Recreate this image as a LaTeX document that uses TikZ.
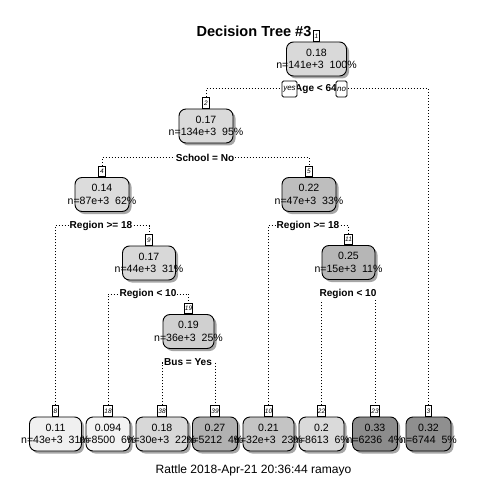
\documentclass[tikz,border=0pt]{standalone}
\usepackage{fontspec}
\setmainfont{Liberation Sans}
\usetikzlibrary{shadows}
\definecolor{cA}{HTML}{D9D9D9}
\definecolor{cB}{HTML}{DADADA}
\definecolor{cC}{HTML}{DCDCDC}
\definecolor{cD}{HTML}{BEBEBE}
\definecolor{cE}{HTML}{D8D8D8}
\definecolor{cF}{HTML}{B6B6B6}
\definecolor{cG}{HTML}{D0D0D0}
\definecolor{cL8}{HTML}{F0F0F0}
\definecolor{cL18}{HTML}{F3F3F3}
\definecolor{cL38}{HTML}{D8D8D8}
\definecolor{cL39}{HTML}{B1B1B1}
\definecolor{cL10}{HTML}{C4C4C4}
\definecolor{cL22}{HTML}{DADADA}
\definecolor{cL23}{HTML}{8C8C8C}
\definecolor{cL3}{HTML}{8F8F8F}
\tikzset{
  box/.style={draw=black, line width=0.9bp, rounded corners=7bp, minimum height=34bp, inner sep=0pt,
    drop shadow={shadow xshift=2.5bp, shadow yshift=-2.5bp, fill=black, opacity=0.35}},
  vtxt/.style={align=center, font=\fontsize{10.6}{12.6}\selectfont, inner sep=0pt, text=black},
  tabbox/.style={draw=black, fill=white, line width=0.7bp, anchor=south, inner sep=0.6bp,
    minimum width=6.5bp, minimum height=10.5bp, font=\fontsize{6.5}{6.5}\selectfont\itshape},
  splitlbl/.style={fill=white, inner sep=1bp, font=\fontsize{10.1}{11}\selectfont\bfseries},
  dotline/.style={line width=1bp, dash pattern=on 1bp off 2bp},
  yn/.style={draw=black, fill=white, line width=0.8bp, rounded corners=1.5bp, inner sep=0pt,
    minimum height=16bp, font=\fontsize{8}{8}\selectfont\itshape},
}
\begin{document}
\begin{tikzpicture}[x=1bp,y=-1bp]
\useasboundingbox[fill=white] (0,0) rectangle (480,480);
% internal node boxes
\node[box, fill=cA, minimum width=60bp] (n1) at (316.5,59) {};
\node[box, fill=cB, minimum width=54bp] (n2) at (206,126) {};
\node[box, fill=cC, minimum width=54bp] (n4) at (102,194.5) {};
\node[box, fill=cD, minimum width=54bp] (n5) at (309,194.5) {};
\node[box, fill=cE, minimum width=53bp] (n9) at (149,263) {};
\node[box, fill=cF, minimum width=53bp] (n11) at (348.5,262.5) {};
\node[box, fill=cG, minimum width=51bp] (n19) at (188.5,331.5) {};
% leaves
\node[box, fill=cL8, minimum width=52bp] (l8) at (55.5,434) {};
\node[box, fill=cL18, minimum width=44bp] (l18) at (108,434) {};
\node[box, fill=cL38, minimum width=52bp] (l38) at (162,434) {};
\node[box, fill=cL39, minimum width=45bp] (l39) at (215,434) {};
\node[box, fill=cL10, minimum width=51bp] (l10) at (268.5,434) {};
\node[box, fill=cL22, minimum width=45bp] (l22) at (321.5,434) {};
\node[box, fill=cL23, minimum width=45bp] (l23) at (375,434) {};
\node[box, fill=cL3, minimum width=45bp] (l3) at (428.5,434) {};
% tabs
\node[tabbox] (t1) at (n1.north) {1};
\node[tabbox] (t2) at (n2.north) {2};
\node[tabbox] (t4) at (n4.north) {4};
\node[tabbox] (t5) at (n5.north) {5};
\node[tabbox] (t9) at (n9.north) {9};
\node[tabbox] (t11) at (n11.north) {11};
\node[tabbox] (t19) at (n19.north) {19};
\node[tabbox] (t8) at (l8.north) {8};
\node[tabbox] (t18) at (l18.north) {18};
\node[tabbox] (t38) at (l38.north) {38};
\node[tabbox] (t39) at (l39.north) {39};
\node[tabbox] (t10) at (l10.north) {10};
\node[tabbox] (t22) at (l22.north) {22};
\node[tabbox] (t23) at (l23.north) {23};
\node[tabbox] (t3) at (l3.north) {3};
% split positions
\coordinate (s1) at (316,89);
\coordinate (s2) at (205,157.5);
\coordinate (s4) at (101,225.5);
\coordinate (s9) at (148,294);
\coordinate (s19) at (188,362.5);
\coordinate (s5) at (308,225.5);
\coordinate (s11) at (348,294);
% connectors
\draw[dotline] (t2.north) -- (t2.north |- s1) -- (t3.north |- s1) -- (t3.north);
\draw[dotline] (t4.north) -- (t4.north |- s2) -- (t5.north |- s2) -- (t5.north);
\draw[dotline] (t8.north) -- (t8.north |- s4) -- (t9.north |- s4) -- (t9.north);
\draw[dotline] (t18.north) -- (t18.north |- s9) -- (t19.north |- s9) -- (t19.north);
\draw[dotline] (t38.north) -- (t38.north |- s19) -- (t39.north |- s19) -- (t39.north);
\draw[dotline] (t10.north) -- (t10.north |- s5) -- (t11.north |- s5) -- (t11.north);
\draw[dotline] (t22.north) -- (t22.north |- s11) -- (t23.north |- s11) -- (t23.north);
% split labels
\node[splitlbl] (q1) at (s1) {Age < 64};
\node[splitlbl] (q2) at (s2) {School = No};
\node[splitlbl] (q4) at (s4) {Region >= 18};
\node[splitlbl] (q9) at (s9) {Region < 10};
\node[splitlbl] (q19) at (s19) {Bus = Yes};
\node[splitlbl] (q5) at (s5) {Region >= 18};
\node[splitlbl] (q11) at (s11) {Region < 10};
\node[yn, minimum width=15bp] (yes) at (289.5,89) {yes};
\node[yn, minimum width=11bp] (no) at (341.5,89) {no};
% texts
\node[vtxt] (x1) at (n1) {0.18\\n=141e+3\ \ 100\%};
\node[vtxt] (x2) at (n2) {0.17\\n=134e+3\ \ 95\%};
\node[vtxt] (x4) at (n4) {0.14\\n=87e+3\ \ 62\%};
\node[vtxt] (x5) at (n5) {0.22\\n=47e+3\ \ 33\%};
\node[vtxt] (x9) at (n9) {0.17\\n=44e+3\ \ 31\%};
\node[vtxt] (x11) at (n11) {0.25\\n=15e+3\ \ 11\%};
\node[vtxt] (x19) at (n19) {0.19\\n=36e+3\ \ 25\%};
\node[vtxt] (y8) at (l8) {0.11\\n=43e+3\ \ 31\%};
\node[vtxt] (y18) at (l18) {0.094\\n=8500\ \ 6\%};
\node[vtxt] (y38) at (l38) {0.18\\n=30e+3\ \ 22\%};
\node[vtxt] (y39) at (l39) {0.27\\n=5212\ \ 4\%};
\node[vtxt] (y10) at (l10) {0.21\\n=32e+3\ \ 23\%};
\node[vtxt] (y22) at (l22) {0.2\\n=8613\ \ 6\%};
\node[vtxt] (y23) at (l23) {0.33\\n=6236\ \ 4\%};
\node[vtxt] (y3) at (l3) {0.32\\n=6744\ \ 5\%};
% title and footer
\node[font=\fontsize{14.6}{16}\selectfont\bfseries, inner sep=0pt] (title) at (254,31) {Decision Tree \#3};
\node[font=\fontsize{12.1}{14}\selectfont, inner sep=0pt] (footer) at (253.5,470) {Rattle 2018-Apr-21 20:36:44 ramayo};
\end{tikzpicture}
\end{document}
